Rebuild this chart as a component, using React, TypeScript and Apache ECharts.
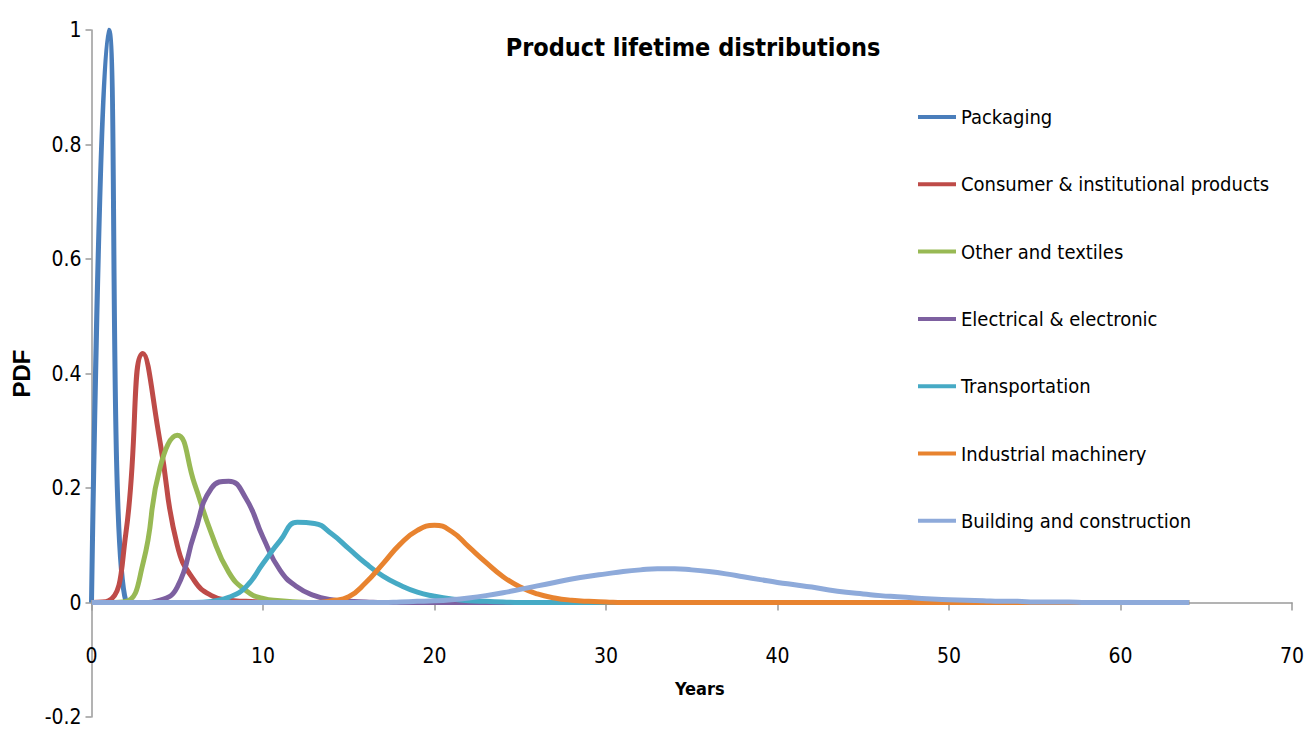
import React, { useEffect, useRef } from "react";
import * as echarts from "echarts";

const years = [
  0, 1, 2, 3, 4, 5, 6, 7, 8, 9, 10, 11, 12, 13, 14, 15, 16, 17, 18, 19, 20,
  21, 22, 23, 24, 25, 26, 27, 28, 29, 30, 31, 32, 33, 34, 35, 36, 37, 38, 39, 40,
  41, 42, 43, 44, 45, 46, 47, 48, 49, 50, 51, 52, 53, 54, 55, 56, 57, 58, 59, 60,
  61, 62, 63, 64,
];

const packaging = [
  0, 1.0, 0.003, 0, 0, 0, 0, 0, 0, 0, 0, 0, 0, 0, 0, 0, 0, 0, 0, 0, 0,
  0, 0, 0, 0, 0, 0, 0, 0, 0, 0, 0, 0, 0, 0, 0, 0, 0, 0, 0, 0,
  0, 0, 0, 0, 0, 0, 0, 0, 0, 0, 0, 0, 0, 0, 0, 0, 0, 0, 0, 0,
  0, 0, 0, 0,
];

const consumer = [
  0, 0.003, 0.12, 0.435, 0.28, 0.1, 0.038, 0.012, 0.004, 0.002, 0.001, 0, 0, 0, 0, 0, 0, 0, 0, 0, 0,
  0, 0, 0, 0, 0, 0, 0, 0, 0, 0, 0, 0, 0, 0, 0, 0, 0, 0, 0, 0,
  0, 0, 0, 0, 0, 0, 0, 0, 0, 0, 0, 0, 0, 0, 0, 0, 0, 0, 0, 0,
  0, 0, 0, 0,
];

const otherTextiles = [
  0, 0, 0.002, 0.068, 0.236, 0.292, 0.208, 0.12, 0.053, 0.021, 0.007, 0.003, 0.001, 0, 0, 0, 0, 0, 0, 0, 0,
  0, 0, 0, 0, 0, 0, 0, 0, 0, 0, 0, 0, 0, 0, 0, 0, 0, 0, 0, 0,
  0, 0, 0, 0, 0, 0, 0, 0, 0, 0, 0, 0, 0, 0, 0, 0, 0, 0, 0, 0,
  0, 0, 0, 0,
];

const electrical = [
  0, 0, 0, 0, 0.004, 0.027, 0.12, 0.2, 0.212, 0.182, 0.114, 0.056, 0.027, 0.012, 0.005, 0.002, 0.001, 0, 0, 0, 0,
  0, 0, 0, 0, 0, 0, 0, 0, 0, 0, 0, 0, 0, 0, 0, 0, 0, 0, 0, 0,
  0, 0, 0, 0, 0, 0, 0, 0, 0, 0, 0, 0, 0, 0, 0, 0, 0, 0, 0, 0,
  0, 0, 0, 0,
];

const transportation = [
  0, 0, 0, 0, 0, 0, 0, 0.002, 0.009, 0.027, 0.068, 0.108, 0.14, 0.138, 0.12, 0.094, 0.068, 0.046, 0.03, 0.018, 0.011,
  0.006, 0.003, 0.002, 0.001, 0, 0, 0, 0, 0, 0, 0, 0, 0, 0, 0, 0, 0, 0, 0, 0,
  0, 0, 0, 0, 0, 0, 0, 0, 0, 0, 0, 0, 0, 0, 0, 0, 0, 0, 0, 0,
  0, 0, 0, 0,
];

const industrial = [
  0, 0, 0, 0, 0, 0, 0, 0, 0, 0, 0, 0, 0, 0, 0.003, 0.01, 0.035, 0.068, 0.102, 0.126, 0.135,
  0.124, 0.097, 0.07, 0.045, 0.027, 0.015, 0.008, 0.004, 0.002, 0.001, 0, 0, 0, 0, 0, 0, 0, 0, 0, 0,
  0, 0, 0, 0, 0, 0, 0, 0, 0, 0, 0, 0, 0, 0, 0, 0, 0, 0, 0, 0,
  0, 0, 0, 0,
];

const building = [
  0, 0, 0, 0, 0, 0, 0, 0, 0, 0, 0, 0, 0, 0, 0, 0, 0, 0, 0.001, 0.002, 0.003,
  0.005, 0.008, 0.012, 0.017, 0.023, 0.029, 0.035, 0.041, 0.046, 0.05, 0.054, 0.057, 0.059, 0.059, 0.057, 0.054, 0.05, 0.045, 0.04, 0.035,
  0.031, 0.027, 0.022, 0.018, 0.015, 0.012, 0.01, 0.008, 0.006, 0.005, 0.004, 0.003, 0.002, 0.002, 0.001, 0.001, 0.001, 0, 0, 0,
  0, 0, 0, 0,
];

const seriesNames = [
  "Packaging",
  "Consumer & institutional products",
  "Other and textiles",
  "Electrical & electronic",
  "Transportation",
  "Industrial machinery",
  "Building and construction",
];
const seriesValues = [packaging, consumer, otherTextiles, electrical, transportation, industrial, building];
const seriesColors = ["#4A7EBB", "#BE4B48", "#98B954", "#7D60A0", "#46AAC5", "#E8832F", "#8EAADA"];

const yTicks = { min: -0.2, max: 1, interval: 0.2 };
const xTicks = { min: 0, max: 70, interval: 10 };

const NARROW = "'Liberation Sans Narrow', 'DejaVu Sans Condensed', 'Arial Narrow', sans-serif";

export default function App() {
  const ref = useRef<HTMLDivElement>(null);
  useEffect(() => {
    if (!ref.current) return;
    const prevMargin = document.body.style.margin;
    document.body.style.margin = "0";
    const chart = echarts.init(ref.current, undefined, { renderer: "svg" });
    chart.setOption({
      animation: false,
      backgroundColor: "#ffffff",
      grid: { left: 91.5, right: 16, top: 30, bottom: 13, containLabel: false, outerBoundsMode: "none" },
      graphic: [
        {
          type: "text",
          x: 693,
          y: 47,
          style: {
            text: "Product lifetime distributions",
            fontFamily: NARROW,
            fontWeight: "bold",
            fontSize: 25,
            fill: "#000",
            align: "center",
            verticalAlign: "middle",
          },
        },
      ],
      legend: {
        orient: "vertical",
        left: 913,
        top: 102,
        icon: "rect",
        itemWidth: 38,
        itemHeight: 4,
        itemGap: 47.3,
        textStyle: { fontFamily: NARROW, fontSize: 20, lineHeight: 20, color: "#000", padding: [0, 0, 0, 0] },
        data: seriesNames,
      },
      xAxis: {
        type: "value",
        min: xTicks.min,
        max: xTicks.max,
        interval: xTicks.interval,
        name: "Years",
        nameLocation: "middle",
        nameGap: -38,
        nameTextStyle: { fontFamily: NARROW, fontWeight: "bold", fontSize: 18, color: "#000", padding: [0, 0, 0, 16] },
        axisLine: { onZero: true, lineStyle: { color: "#9A9A9A", width: 1.5 } },
        axisTick: { show: true, length: 8, lineStyle: { color: "#9A9A9A", width: 1.5 } },
        axisLabel: { fontFamily: NARROW, fontSize: 21, color: "#000", margin: -72 },
        splitLine: { show: false },
      },
      yAxis: {
        type: "value",
        min: yTicks.min,
        max: yTicks.max,
        interval: yTicks.interval,
        name: "PDF",
        nameLocation: "middle",
        nameGap: 58,
        nameRotate: 90,
        nameTextStyle: { fontFamily: "'Liberation Sans', Arial, sans-serif", fontWeight: "bold", fontSize: 24, color: "#000" },
        axisLine: { show: true, lineStyle: { color: "#9A9A9A", width: 1.5 } },
        axisTick: { show: true, length: 6, lineStyle: { color: "#9A9A9A", width: 1.5 } },
        axisLabel: { fontFamily: NARROW, fontSize: 21, color: "#000", margin: 10 },
        splitLine: { show: false },
      },
      series: seriesNames.map((name, i) => ({
        name,
        type: "line",
        smooth: 0.5,
        symbol: "none",
        showSymbol: false,
        color: seriesColors[i],
        lineStyle: { width: 5, color: seriesColors[i] },
        data: years.map((x, j) => [x, seriesValues[i][j]]),
      })),
    });
    return () => {
      chart.dispose();
      document.body.style.margin = prevMargin;
    };
  }, []);
  return <div ref={ref} style={{ width: 1308, height: 730 }} />;
}
